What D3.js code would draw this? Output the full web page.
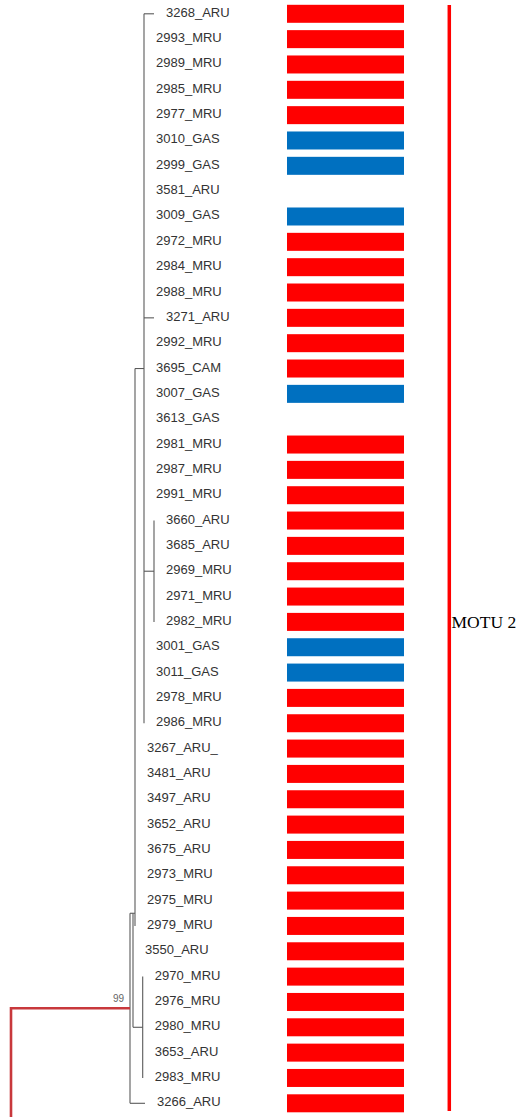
<!DOCTYPE html>
<html>
<head>
<meta charset="utf-8">
<script src="https://cdn.jsdelivr.net/npm/d3@7"></script>
<style>
  html, body { margin: 0; padding: 0; background: #fff; }
  svg { display: block; }
</style>
</head>
<body>
<div id="chart"></div>
<script>
// ---------------- data ----------------
const leafNames = [
  "3268_ARU","2993_MRU","2989_MRU","2985_MRU","2977_MRU","3010_GAS","2999_GAS","3581_ARU",
  "3009_GAS","2972_MRU","2984_MRU","2988_MRU","3271_ARU","2992_MRU","3695_CAM","3007_GAS",
  "3613_GAS","2981_MRU","2987_MRU","2991_MRU","3660_ARU","3685_ARU","2969_MRU","2971_MRU",
  "2982_MRU","3001_GAS","3011_GAS","2978_MRU","2986_MRU","3267_ARU_","3481_ARU","3497_ARU",
  "3652_ARU","3675_ARU","2973_MRU","2975_MRU","2979_MRU","3550_ARU","2970_MRU","2976_MRU",
  "2980_MRU","3653_ARU","2983_MRU","3266_ARU"
];
// bar group per leaf ("R" = red group, "B" = blue group, "" = no bar)
const barGroup = [
  "R","R","R","R","R","B","B","",
  "B","R","R","R","R","R","R","B",
  "","R","R","R","R","R","R","R",
  "R","B","B","R","R","R","R","R",
  "R","R","R","R","R","R","R","R",
  "R","R","R","R"
];
const groupColors = { R: "#ff0000", B: "#0070c0" };

// tree: branch lengths (arbitrary units), children
const cladeE = { name: "E", len: 10, children: ["3660_ARU","3685_ARU","2969_MRU","2971_MRU","2982_MRU"].map(n => ({name: n, len: 0})) };
const cladeD = { name: "D", len: 9, children: [
  {name:"3268_ARU",len:10},{name:"2993_MRU",len:0},{name:"2989_MRU",len:0},{name:"2985_MRU",len:0},
  {name:"2977_MRU",len:0},{name:"3010_GAS",len:0},{name:"2999_GAS",len:0},{name:"3581_ARU",len:0},
  {name:"3009_GAS",len:0},{name:"2972_MRU",len:0},{name:"2984_MRU",len:0},{name:"2988_MRU",len:0},
  {name:"3271_ARU",len:10},{name:"2992_MRU",len:0},{name:"3695_CAM",len:0},{name:"3007_GAS",len:0},
  {name:"3613_GAS",len:0},{name:"2981_MRU",len:0},{name:"2987_MRU",len:0},{name:"2991_MRU",len:0},
  cladeE,
  {name:"3001_GAS",len:0},{name:"3011_GAS",len:0},{name:"2978_MRU",len:0},{name:"2986_MRU",len:0}
]};
const cladeB = { name: "B", len: 2, row: 35.5, children: [
  cladeD,
  ...["3267_ARU_","3481_ARU","3497_ARU","3652_ARU","3675_ARU","2973_MRU","2975_MRU","2979_MRU"].map(n => ({name:n,len:0}))
]};
const cladeC = { name: "C", len: 9.7, children: ["2970_MRU","2976_MRU","2980_MRU","3653_ARU","2983_MRU"].map(n => ({name:n,len:0})) };
const cladeA = { name: "A", len: 3, row: 35.5, children: [cladeB, {name:"3550_ARU",len:0}, cladeC] };
const treeRoot = { name: "R", len: 119, support: "99", children: [cladeA, {name:"3266_ARU", len: 15}] };

const motu = { label: "MOTU 2", fromRow: -0.35, toRow: 43.3, labelRow: 24 };

// ---------------- layout ----------------
const W = 518, H = 1117;
const svg = d3.select("#chart").append("svg").attr("width", W).attr("height", H);
svg.append("rect").attr("width", W).attr("height", H).attr("fill", "#fff");

const yRow = d3.scaleLinear().domain([0, leafNames.length - 1]).range([13.8, 1103.3]);
const xDepth = d3.scaleLinear().domain([0, 143]).range([11, 154]);
const xBar = d3.scaleLinear().domain([0, 1]).range([287, 404]);

const root = d3.hierarchy(treeRoot, d => d.children);
root.eachBefore(d => { d.depthLen = (d.parent ? d.parent.depthLen : 0) + d.data.len; });
root.eachAfter(d => {
  if (!d.children) {
    d.yy = yRow(leafNames.indexOf(d.data.name));
  } else if (d.data.row !== undefined) {
    d.yy = yRow(d.data.row);
  } else {
    d.yy = (d.children[0].yy + d.children[d.children.length - 1].yy) / 2;
  }
  d.xx = xDepth(d.depthLen);
});

const gTree = svg.append("g").attr("stroke", "#5a5a5a").attr("stroke-width", 1.1).attr("fill", "none");
root.each(d => {
  if (d.children) {
    const ys = d.children.map(c => c.yy);
    gTree.append("line").attr("x1", d.xx).attr("x2", d.xx)
      .attr("y1", d3.min(ys)).attr("y2", d3.max(ys));
  }
  if (d.parent && d.xx > d.parent.xx) {
    gTree.append("line").attr("x1", d.parent.xx).attr("x2", d.xx)
      .attr("y1", d.yy).attr("y2", d.yy);
  }
});

// root stem (red)
svg.append("path")
  .attr("d", `M${xDepth(0)},${H} L${xDepth(0)},${root.yy} L${root.xx},${root.yy}`)
  .attr("fill", "none").attr("stroke", "#c8383c").attr("stroke-width", 2.6);

svg.append("text").attr("x", root.xx - 6).attr("y", root.yy - 6)
  .attr("text-anchor", "end").attr("font-family", "Liberation Sans, Arial, sans-serif")
  .attr("font-size", 10).attr("fill", "#666").text(treeRoot.support);

// leaf labels
svg.append("g").selectAll("text").data(root.leaves()).join("text")
  .attr("x", d => d.xx + 12)
  .attr("y", d => d.yy + 3)
  .attr("font-family", "Liberation Sans, Arial, sans-serif")
  .attr("font-size", 13).attr("fill", "#333")
  .text(d => d.data.name);

// bars
const barData = leafNames.map((n, i) => ({ name: n, row: i, group: barGroup[i] })).filter(d => d.group);
svg.append("g").selectAll("rect").data(barData).join("rect")
  .attr("x", xBar(0)).attr("width", xBar(1) - xBar(0))
  .attr("y", d => yRow(d.row) - 9).attr("height", 18)
  .attr("fill", d => groupColors[d.group]);

// MOTU bracket
svg.append("line").attr("x1", 449.3).attr("x2", 449.3)
  .attr("y1", yRow(motu.fromRow)).attr("y2", yRow(motu.toRow))
  .attr("stroke", "#ff0000").attr("stroke-width", 3.5);
svg.append("text").attr("x", 451.5).attr("y", yRow(motu.labelRow) + 6)
  .attr("font-family", "Liberation Serif, Times New Roman, serif")
  .attr("font-size", 17.5).attr("fill", "#000").text(motu.label);
</script>
</body>
</html>
